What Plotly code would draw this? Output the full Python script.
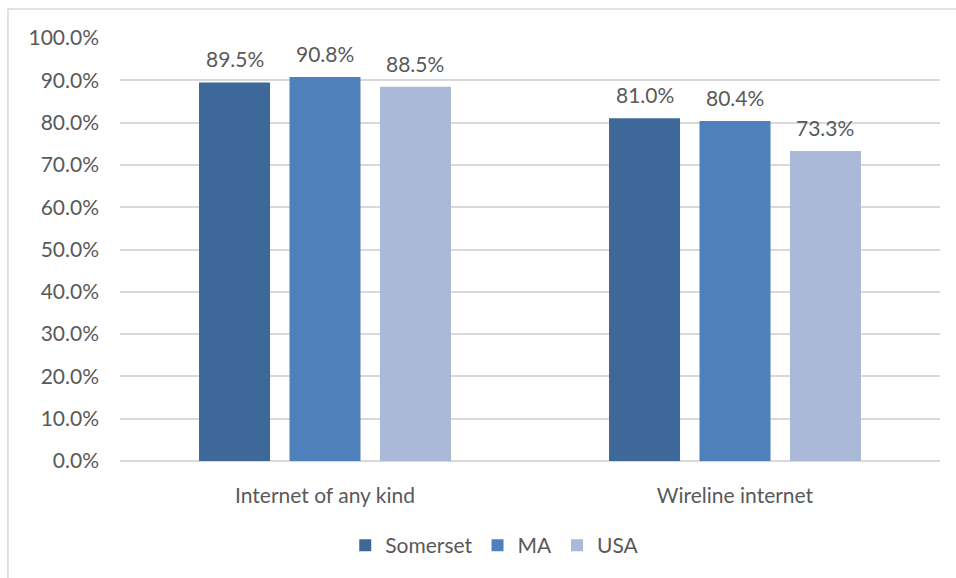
import plotly.graph_objects as go

categories = ["Internet of any kind", "Wireline internet"]
somerset = [89.5, 81.0]
ma = [90.8, 80.4]
usa = [88.5, 73.3]
series_names = ["Somerset", "MA", "USA"]
colors = ["#3E6899", "#4E80BC", "#AAB9D7"]

FONT = "Lato"
TXT = "#595959"
SIZE = 21

fig = go.Figure()
for i, (name, vals, col) in enumerate(zip(series_names, [somerset, ma, usa], colors)):
    fig.add_trace(go.Bar(
        x=categories, y=vals, name=name, marker_color=col,
        marker_line_width=0, offsetgroup=str(i),
    ))

fig.update_layout(
    width=956, height=578,
    margin=dict(l=120, r=16, t=38, b=117),
    paper_bgcolor="white", plot_bgcolor="white",
    barmode="group", bargap=0.338, bargroupgap=0.215,
    font=dict(family=FONT, color=TXT),
    showlegend=True,
    legend=dict(orientation="h", x=0.457, xanchor="center", y=-0.2, yanchor="middle",
                font=dict(family=FONT, size=SIZE, color=TXT),
                traceorder="normal"),
    xaxis=dict(showgrid=False, showline=False, ticks="", ticklabelstandoff=20,
               tickfont=dict(family=FONT, size=SIZE, color=TXT)),
    yaxis=dict(range=[0, 100], dtick=10, tickformat=".1f", ticksuffix="%",
               showgrid=True, gridcolor="#D9D9D9", gridwidth=1.5,
               zeroline=True, zerolinecolor="#D9D9D9", zerolinewidth=1.5,
               showline=False, ticks="", ticklabelstandoff=20,
               tickfont=dict(family=FONT, size=SIZE, color=TXT)),
    shapes=[dict(type="rect", xref="paper", yref="paper",
                 x0=-0.1366, x1=1.2, y0=-0.5, y1=1.0686,
                 line=dict(color="#D9D9D9", width=1.5), fillcolor="rgba(0,0,0,0)",
                 layer="below")],
)

# value labels above each bar, positioned by category and series offset
n = len(series_names)
slot = (1 - 0.338) / n
for i, vals in enumerate([somerset, ma, usa]):
    for c, v in enumerate(vals):
        fig.add_annotation(
            x=c + (i - (n - 1) / 2) * slot, y=v, xref="x", yref="y",
            text=f"{v:.1f}%", showarrow=False, yanchor="bottom", yshift=9,
            font=dict(family=FONT, size=SIZE, color=TXT),
        )

fig.write_html("out.html")
